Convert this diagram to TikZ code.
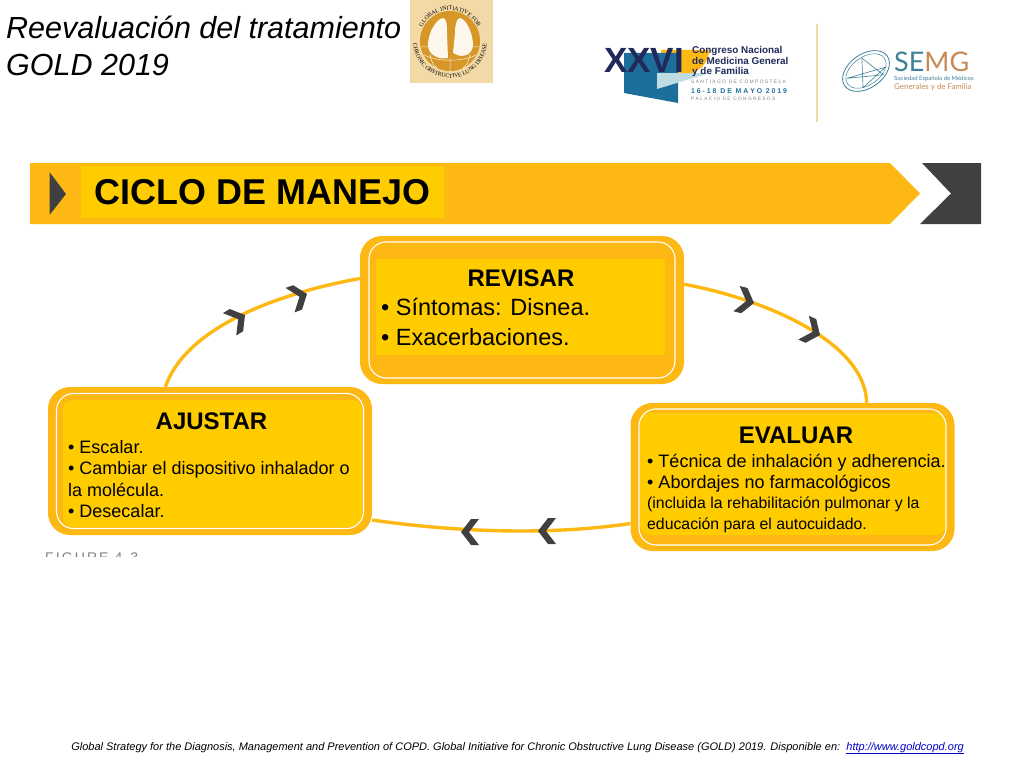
\documentclass[tikz,border=0pt]{standalone}
\usepackage{fontspec}
\setmainfont{Liberation Sans}
\newfontfamily\logoserif{Liberation Serif}
\newfontfamily\logolato{Lato}
\usetikzlibrary{arrows.meta, calc, positioning, decorations.text}
\definecolor{goldorange}{RGB}{253,184,19}
\definecolor{goldyellow}{RGB}{255,204,0}
\definecolor{chevgray}{RGB}{64,64,64}
\definecolor{logotan}{RGB}{243,217,165}
\definecolor{logoring}{RGB}{214,150,40}
\definecolor{congnavy}{RGB}{32,42,90}
\definecolor{congblue}{RGB}{30,110,155}
\definecolor{congteal}{RGB}{190,220,225}
\definecolor{semgteal}{RGB}{62,128,152}
\definecolor{semgorange}{RGB}{200,138,85}
\definecolor{urlblue}{RGB}{0,0,200}

\begin{document}
\begin{tikzpicture}[
    x=1pt, y=-1pt,
    outerbox/.style = {rectangle, fill=goldorange, rounded corners=22pt, minimum width=324pt, minimum height=148pt, inner sep=0pt},
    whiteline/.style = {rectangle, draw=white, line width=1.1pt, rounded corners=17pt, inner sep=0pt},
    yellowbox/.style = {rectangle, fill=goldyellow, inner sep=0pt},
    head/.style = {font=\fontsize{24}{28}\selectfont\bfseries, inner sep=0pt},
    bodybig/.style = {font=\fontsize{23.5}{29.5}\selectfont, align=left, anchor=north west, inner sep=0pt},
    bodymid/.style = {font=\fontsize{18}{21.5}\selectfont, align=left, anchor=north west, inner sep=0pt},
    link/.style = {draw=goldorange, line width=3.4pt},
    chev/.pic = {\fill[chevgray] (0,0) -- (-10,13) -- (-18,13) -- (-8,0) -- (-18,-13) -- (-10,-13) -- cycle;},
    congtxt/.style = {text=congnavy, font=\fontsize{9.9}{10.3}\selectfont\bfseries, align=left, anchor=north west, inner sep=0pt},
]
\useasboundingbox (0,0) rectangle (1024,768);

% ---------------- heading ----------------
\node[font=\fontsize{30.5}{37}\selectfont\itshape, align=left, anchor=north west, inner sep=0pt] (titulo) at (6,16) {Reevaluación del tratamiento\\GOLD 2019};

% ---------------- gold logo ----------------
\node[fill=logotan, minimum size=83pt, inner sep=0pt] (goldlogo) at (451.5,41) {};
\begin{scope}[shift={(450,41)}, yscale=-1]
  \fill[logoring] (0,0) circle (30);
  \fill[white!80!logotan] (-2,-17) .. controls (-14,-19) and (-22,-12) .. (-22,-4) .. controls (-22,8) and (-14,22) .. (-7,23) .. controls (-3,23) and (-3,14) .. (-3,8) -- cycle;
  \fill[white!80!logotan] (3,-12) .. controls (14,-19) and (23,-12) .. (23,-4) .. controls (23,8) and (16,22) .. (10,23) .. controls (6,23) and (5,14) .. (5,8) -- cycle;
  \draw[white!70!logotan, line width=0.5pt] (-26,-14) .. controls (-12,-21) and (12,-21) .. (26,-14) (-29,-6) -- (-22,-6) (22,-6) -- (29,-6) (0,-30) -- (0,-17) (-13,-27) .. controls (-17,-24) and (-19,-20) .. (-20,-13) (13,-27) .. controls (17,-24) and (19,-20) .. (20,-13);
  \path[decorate, decoration={text along path, text align=center, text={|\logoserif\fontsize{5.8}{7}\selectfont|GLOBAL INITIATIVE FOR}}] (175:31) arc[start angle=175, end angle=5, radius=31];
  \path[decorate, decoration={text along path, text align=center, text={|\logoserif\fontsize{5.8}{7}\selectfont|CHRONIC OBSTRUCTIVE LUNG DISEASE}}] (150:37) arc[start angle=150, end angle=390, radius=37];
\end{scope}

% ---------------- congress logo ----------------
\fill[goldorange] (661,50) arc[start angle=180, end angle=0, radius=24] -- cycle;
\fill[congblue] (624,53) -- (678,53) -- (678,103) -- (624,93) -- cycle;
\fill[congteal] (657,73) -- (710,73) -- (657,89) -- cycle;
\node[text=congnavy, font=\fontsize{35}{35}\selectfont\bfseries, inner sep=0pt, anchor=west] (xxvi) at (604,60) {XXVI};
\node[congtxt] (congreso) at (692,46.5) {Congreso Nacional\\de Medicina General\\y de Familia};
\node[text=gray, font=\fontsize{4.9}{6}\selectfont, inner sep=0pt, anchor=west] (santiago) at (691,82) {S A N T I A G O\ \ D E\ \ C O M P O S T E L A};
\node[text=congblue, font=\fontsize{6.9}{8}\selectfont\bfseries, inner sep=0pt, anchor=west] (fecha) at (691,91) {1 6 - 1 8\ \ D E\ \ M A Y O\ \ 2 0 1 9};
\node[text=gray, font=\fontsize{4.8}{6}\selectfont, inner sep=0pt, anchor=west] (palacio) at (691,99) {P A L A C I O\ \ D E\ \ C O N G R E S O S};
\draw[logotan, line width=1.4pt] (817,24) -- (817,122);

% ---------------- semg logo ----------------
\begin{scope}[shift={(866,71)}, rotate=35]
  \draw[semgteal, line width=0.8pt] (0,0) ellipse (26 and 17);
  \draw[semgteal, line width=0.5pt] (0,0) ellipse (22.5 and 14);
  \draw[semgteal, line width=0.6pt] (-20,-5) -- (18,8) -- (-12,12) -- (4,-13) -- (12,13) -- cycle;
\end{scope}
\node[font=\logolato\fontsize{27}{27}\selectfont, inner sep=0pt, anchor=west] (semg) at (894,61.5) {\textcolor{semgteal}{SE}\textcolor{semgorange}{MG}};
\node[font=\logolato\fontsize{5.9}{7}\selectfont, text=semgteal, inner sep=0pt, anchor=west] (semgsoc) at (894,79) {Sociedad Española de Médicos};
\node[font=\logolato\fontsize{7.9}{9}\selectfont, text=semgorange, inner sep=0pt, anchor=west] (semgfam) at (894,87) {Generales y de Familia};

% ---------------- banner ----------------
\fill[goldorange] (30,163) -- (890,163) -- (920,193.5) -- (890,224) -- (30,224) -- cycle;
\fill[chevgray] (922,163) -- (981,163) -- (981,224) -- (920,224) -- (951,193.5) -- cycle;
\fill[chevgray] (49.5,172) -- (66,194) -- (49.5,215) -- cycle;
\node[yellowbox, minimum width=363pt, minimum height=52pt, font=\fontsize{35.9}{40}\selectfont\bfseries] (ciclo) at (262.5,192) {CICLO DE MANEJO};

% ---------------- boxes ----------------
\node[outerbox] (revisar) at (522,310) {};
\node[outerbox] (ajustar) at (210,461) {};
\node[outerbox] (evaluar) at (792.5,477) {};

\node[yellowbox, minimum width=289pt, minimum height=96pt] (revisaryel) at (520.5,307) {};
\node[yellowbox, rounded corners=10pt, minimum width=299pt, minimum height=127pt] (ajustaryel) at (212.5,463.5) {};
\node[yellowbox, rounded corners=10pt, minimum width=306pt, minimum height=122pt] (evaluaryel) at (793,474) {};

\node[whiteline, minimum width=306pt, minimum height=136pt] (revisarlin) at (revisar.center) {};
\node[whiteline, minimum width=307pt, minimum height=135pt] (ajustarlin) at (ajustar.center) {};
\node[whiteline, minimum width=307pt, minimum height=136pt] (evaluarlin) at (evaluar.center) {};

\node[head] (revisarhead) at (521,278) {REVISAR};
\node[bodybig] (revisarbody) at (381,298) {• Síntomas: Disnea.\\• Exacerbaciones.};
\node[head] (ajustarhead) at (211.5,421) {AJUSTAR};
\node[bodymid] (ajustarbody) at (68,440) {• Escalar.\\• Cambiar el dispositivo inhalador o\\la molécula.\\• Desecalar.};
\node[head] (evaluarhead) at (796,435) {EVALUAR};
\node[bodymid, font=\fontsize{18}{21.5}\selectfont] (evaluarbody) at (647,454) {• Técnica de inhalación y adherencia.\\• Abordajes no farmacológicos\\[-2pt]\fontsize{15.8}{20}\selectfont (incluida la rehabilitación pulmonar y la\\\fontsize{15.8}{20}\selectfont educación para el autocuidado.};

% ---------------- cycle links ----------------
\draw[link] (revisar.9.5) .. controls (760,298) and (865,340) .. (evaluar.45.6);
\draw[link] (evaluar.196.5) .. controls (560,534) and (470,534) .. (ajustar.340.6);
\draw[link] (ajustar.121) .. controls (185,330) and (270,295) .. (revisar.169.5);

\pic[rotate=-14] at (754,303) {chev};
\pic[rotate=-24] at (820,335) {chev};
\pic[rotate=180] at (461,532) {chev};
\pic[rotate=180] at (538,531) {chev};
\pic[rotate=31] at (245,315) {chev};
\pic[rotate=20] at (307,294) {chev};

% ---------------- clipped caption and footer ----------------
\begin{scope}
  \clip (40,547) rectangle (150,556.5);
  \node[text=gray, font=\addfontfeatures{LetterSpace=15}\fontsize{14}{14}\selectfont, inner sep=0pt, anchor=north west] (figura) at (45,553) {FIGURE 4.3};
\end{scope}
\node[font=\fontsize{11}{13}\selectfont\itshape, inner sep=0pt, anchor=base east] (fuente) at (964,750) {Global Strategy for the Diagnosis, Management and Prevention of COPD. Global Initiative for Chronic Obstructive Lung Disease (GOLD) 2019. Disponible en:\ \ \textcolor{urlblue}{\underline{http://www.goldcopd.org}}};
\end{tikzpicture}
\end{document}
